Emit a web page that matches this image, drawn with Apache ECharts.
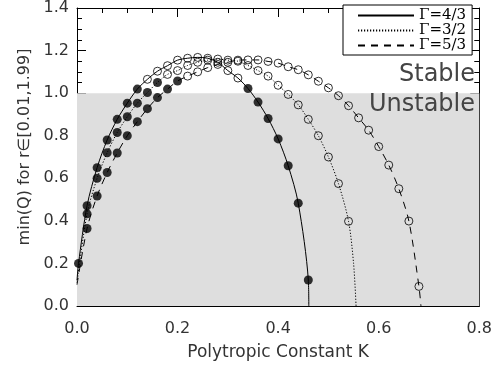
<!DOCTYPE html>
<html><head><meta charset="utf-8">
<script src="https://cdn.jsdelivr.net/npm/echarts@6/dist/echarts.min.js"></script>
<style>html,body{margin:0;padding:0;background:#fff}#c{width:495px;height:371px}</style>
</head><body><div id="c"></div>
<script>
// ---- data ----
const xTicks = [0.0, 0.2, 0.4, 0.6, 0.8];
const yTicks = [0.0, 0.2, 0.4, 0.6, 0.8, 1.0, 1.2, 1.4];
const legendNames = ['\u0393=4/3', '\u0393=3/2', '\u0393=5/3'];

// Gamma = 4/3 (solid)
const K43 = [0.000, 0.003, 0.02, 0.04, 0.06, 0.08, 0.10, 0.12, 0.14, 0.16, 0.18, 0.20, 0.22, 0.24, 0.26, 0.28, 0.30, 0.32, 0.34, 0.36, 0.38, 0.40, 0.42, 0.44, 0.46, 0.461];
const Q43 = [0.12, 0.20, 0.471, 0.65, 0.78, 0.877, 0.953, 1.019, 1.065, 1.103, 1.129, 1.155, 1.164, 1.168, 1.164, 1.145, 1.106, 1.071, 1.022, 0.958, 0.881, 0.785, 0.659, 0.483, 0.122, 0.0];
const M43 = ['', 'f', 'f', 'f', 'f', 'f', 'f', 'f', 'o', 'o', 'o', 'o', 'o', 'o', 'o', 'o', 'o', 'o', 'f', 'f', 'f', 'f', 'f', 'f', 'f', ''];

// Gamma = 3/2 (dotted)
const K32 = [0.000, 0.02, 0.04, 0.06, 0.08, 0.10, 0.12, 0.14, 0.16, 0.18, 0.20, 0.22, 0.24, 0.26, 0.28, 0.30, 0.32, 0.34, 0.36, 0.38, 0.40, 0.42, 0.44, 0.46, 0.48, 0.50, 0.52, 0.54, 0.55, 0.555];
const Q32 = [0.11, 0.433, 0.60, 0.72, 0.815, 0.889, 0.953, 1.003, 1.05, 1.088, 1.106, 1.13, 1.145, 1.155, 1.16, 1.155, 1.15, 1.13, 1.106, 1.08, 1.037, 0.994, 0.945, 0.877, 0.80, 0.70, 0.575, 0.398, 0.20, 0.0];
const M32 = ['', 'f', 'f', 'f', 'f', 'f', 'f', 'f', 'f', 'o', 'o', 'o', 'o', 'o', 'o', 'o', 'o', 'o', 'o', 'o', 'o', 'o', 'o', 'o', 'o', 'o', 'o', 'o', '', ''];

// Gamma = 5/3 (dashed)
const K53 = [0.000, 0.02, 0.04, 0.06, 0.08, 0.10, 0.12, 0.14, 0.16, 0.18, 0.20, 0.22, 0.24, 0.26, 0.28, 0.30, 0.32, 0.34, 0.36, 0.38, 0.40, 0.42, 0.44, 0.46, 0.48, 0.50, 0.52, 0.54, 0.56, 0.58, 0.60, 0.62, 0.64, 0.66, 0.68, 0.684];
const Q53 = [0.10, 0.364, 0.517, 0.627, 0.719, 0.80, 0.866, 0.927, 0.979, 1.019, 1.057, 1.08, 1.10, 1.12, 1.135, 1.145, 1.155, 1.156, 1.156, 1.149, 1.141, 1.124, 1.11, 1.086, 1.056, 1.025, 0.988, 0.941, 0.884, 0.826, 0.749, 0.662, 0.551, 0.399, 0.092, 0.0];
const M53 = ['', 'f', 'f', 'f', 'f', 'f', 'f', 'f', 'f', 'f', 'f', 'o', 'o', 'o', 'o', 'o', 'o', 'o', 'o', 'o', 'o', 'o', 'o', 'o', 'o', 'o', 'o', 'o', 'o', 'o', 'o', 'o', 'o', 'o', 'o', ''];

// stable / unstable boundary
const boundary = 1.0;

// ---- chart ----
const curves = [
  {name: legendNames[0], K: K43, Q: Q43, M: M43, type: 'solid'},
  {name: legendNames[1], K: K32, Q: Q32, M: M32, type: [1.2, 1.8]},
  {name: legendNames[2], K: K53, Q: Q53, M: M53, type: [7, 6]}
];
const series = [];
curves.forEach((c, i) => {
  series.push({
    name: c.name, type: 'line', smooth: 0.3, symbol: 'none', z: 3,
    itemStyle: {color: '#000'},
    lineStyle: {color: '#000', width: 1, type: c.type},
    data: c.K.map((k, j) => [k, c.Q[j]]),
    markArea: i === 0 ? {silent: true, itemStyle: {color: '#dedede'},
      data: [[{coord: [xTicks[0], yTicks[0]]}, {coord: [xTicks[xTicks.length - 1], boundary]}]]} : undefined
  });
});
curves.forEach(c => {
  ['f', 'o'].forEach(kind => {
    const pts = [];
    c.K.forEach((k, j) => { if (c.M[j] === kind) pts.push([k, c.Q[j]]); });
    series.push({
      type: 'scatter', symbol: 'circle', symbolSize: kind === 'f' ? 9 : 8, z: 4,
      itemStyle: kind === 'f' ? {color: '#000'} : {color: 'rgba(0,0,0,0)', borderColor: '#000', borderWidth: 1},
      data: pts, silent: true
    });
  });
});

const thinFont = '"DejaVu Sans ExtraLight", "DejaVu Sans"';
const tickFont = {fontFamily: thinFont, fontSize: 16, color: '#333'};
function mkX(pos, show) {
  return {type: 'value', position: pos, min: xTicks[0], max: xTicks[xTicks.length - 1], interval: 0.2,
    axisLine: {show: true, onZero: false, lineStyle: {color: '#000', width: 1}},
    axisTick: {show: true, inside: true, length: 9, lineStyle: {color: '#000'}},
    minorTick: {show: true, splitNumber: 4, length: 5, lineStyle: {color: '#000'}},
    splitLine: {show: false},
    axisLabel: {show: show, margin: 15, ...tickFont, formatter: v => v.toFixed(1)},
    name: show ? 'Polytropic Constant K' : '', nameLocation: 'middle', nameGap: 38,
    nameTextStyle: {fontFamily: thinFont, fontSize: 17, color: '#333'}};
}
function mkY(pos, show) {
  return {type: 'value', position: pos, min: yTicks[0], max: yTicks[yTicks.length - 1], interval: 0.2,
    axisLine: {show: true, onZero: false, lineStyle: {color: '#000', width: 1}},
    axisTick: {show: true, inside: true, length: 9, lineStyle: {color: '#000'}},
    minorTick: {show: true, splitNumber: 4, length: 5, lineStyle: {color: '#000'}},
    splitLine: {show: false},
    axisLabel: {show: show, margin: 8, ...tickFont, formatter: v => v.toFixed(1)},
    name: show ? 'min(Q) for r\u2208[0.01,1.99]' : '', nameLocation: 'middle', nameGap: 41,
    nameTextStyle: {fontFamily: thinFont, fontSize: 16, color: '#333', padding: [0, 0, 0, 20]}};
}

const chart = echarts.init(document.getElementById('c'), null, {renderer: 'canvas'});
chart.setOption({
  animation: false,
  backgroundColor: '#fff',
  grid: {left: 77, right: 14, top: 1, bottom: 65, containLabel: false},
  xAxis: [mkX('bottom', true), mkX('top', false)],
  yAxis: [mkY('left', true), mkY('right', false)],
  legend: {
    data: legendNames, orient: 'vertical', left: 343, top: 5,
    padding: [3, 6, 2, 14], itemGap: 0, itemWidth: 56, itemHeight: 10,
    itemStyle: {opacity: 0},
    backgroundColor: '#fff', borderColor: '#000', borderWidth: 1, borderRadius: 0,
    textStyle: {fontFamily: 'DejaVu Serif', fontSize: 15, lineHeight: 15, color: '#000'}
  },
  graphic: [
    {type: 'text', right: 20, top: 63, z: 10, style: {text: 'Stable', font: '24px ' + thinFont, fill: '#444'}},
    {type: 'text', right: 20, top: 93, z: 10, style: {text: 'Unstable', font: '24px ' + thinFont, fill: '#444'}}
  ],
  series: series
});
</script></body></html>
